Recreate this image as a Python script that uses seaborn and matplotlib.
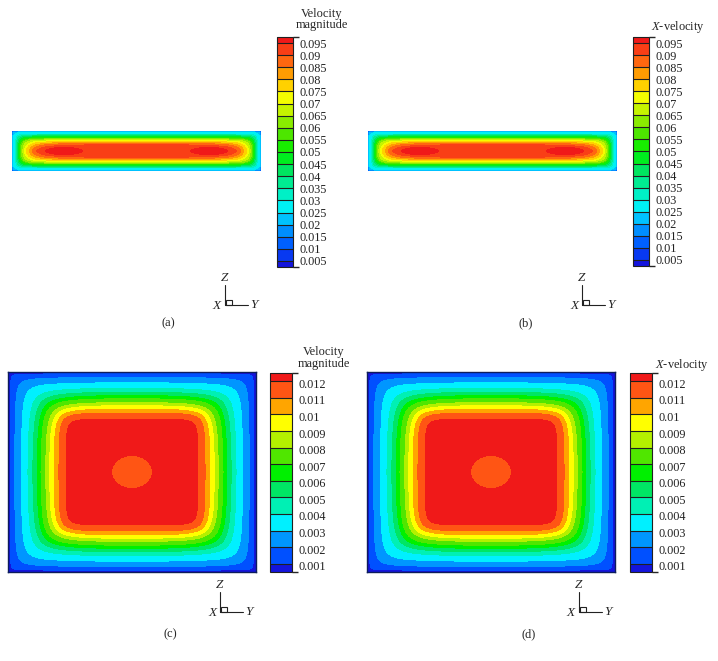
import numpy as np
import matplotlib
matplotlib.use("Agg")
import matplotlib.pyplot as plt
import seaborn as sns
from matplotlib.colors import ListedColormap, BoundaryNorm
from matplotlib.cm import ScalarMappable
from matplotlib.lines import Line2D
from matplotlib.patches import Rectangle
from matplotlib.transforms import ScaledTranslation

# ---------------- data ----------------
# legend levels
strip_levels = [0.005, 0.01, 0.015, 0.02, 0.025, 0.03, 0.035, 0.04, 0.045, 0.05,
                0.055, 0.06, 0.065, 0.07, 0.075, 0.08, 0.085, 0.09, 0.095]
strip_labels = ["0.005", "0.01", "0.015", "0.02", "0.025", "0.03", "0.035", "0.04",
                "0.045", "0.05", "0.055", "0.06", "0.065", "0.07", "0.075", "0.08",
                "0.085", "0.09", "0.095"]
square_levels = [0.001, 0.002, 0.003, 0.004, 0.005, 0.006, 0.007, 0.008, 0.009,
                 0.010, 0.011, 0.012]
square_labels = ["0.001", "0.002", "0.003", "0.004", "0.005", "0.006", "0.007",
                 "0.008", "0.009", "0.01", "0.011", "0.012"]

# band colours of the Tecplot legend (bottom -> top)
band_colors = ["#1414dc", "#0050ff", "#0096ff", "#00f0ff", "#00f0b4", "#00e664",
               "#00f000", "#50e600", "#b4f000", "#ffff00", "#ffa500", "#ff5514",
               "#f01919"]

# (a)/(b) thin duct: where levels 0.005 ... 0.09 are crossed on the mid-lines,
# in pixels from the end wall (h) and from the top wall (v)
strip_cross_h = [0.1, 0.2, 0.35, 0.6, 1.0, 3.3, 4.3, 5.3, 6.3, 7.2, 8.1, 9.0,
                 10.7, 12.5, 14.3, 17.0, 20.0, 24.3]
strip_cross_v = [0.1, 0.2, 0.35, 0.6, 1.0, 3.0, 3.8, 4.6, 5.5, 6.3, 7.0, 7.7,
                 8.6, 9.5, 10.3, 11.3, 12.3, 13.7]
strip_ring_round = [0.5, 0.5, 0.5, 0.5, 0.5, 1.3, 1.4, 1.5, 1.6, 1.7, 1.8, 1.9,
                    2.0, 2.0, 2.0, 2.0, 2.0, 2.0]
# two red (> 0.095) spots: centre distance from each end, half length, half height (px)
strip_spot = [52.0, 19.0, 4.0]

# (c)/(d) duct cross-section: where each level is crossed on the mid-line
# (distance from the wall, fraction of the half size)
square_cross_pos = [0.019, 0.054, 0.107, 0.161, 0.20, 0.234, 0.266, 0.304, 0.336,
                    0.371, 0.411, 0.47]
# corner roundness of each contour ring (exponent of the soft wall distance)
square_ring_round = [1.0, 0.9, 1.26, 1.53, 1.8, 2.08, 2.43, 2.9, 3.45, 4.2, 5.7, 8.5]
# central low-velocity spot (0.011-0.012 band): half size as fraction
square_spot_half = 0.16
square_spot_round = 8.0

# ---------------- styling ----------------
sns.set_theme(style="white")
plt.rcParams['font.family'] = ['Liberation Serif', 'DejaVu Serif']
plt.rcParams['mathtext.fontset'] = 'custom'
plt.rcParams['mathtext.rm'] = 'Liberation Serif'
plt.rcParams['mathtext.it'] = 'Liberation Serif:italic'

W, H = 718, 661
fig = plt.figure(figsize=(W / 100, H / 100), dpi=100)
fig.patch.set_facecolor('white')


def rect(x0, y0, x1, y1):
    return [x0 / W, 1 - y1 / H, (x1 - x0) / W, (y1 - y0) / H]


def ftext(x, y, s, **kw):
    kw.setdefault('ha', 'center')
    kw.setdefault('va', 'center')
    fig.text(x / W, 1 - y / H, s, **kw)


def palette(levels):
    n = len(levels) + 1
    if n == len(band_colors):
        return list(band_colors)
    return sns.blend_palette(band_colors, n_colors=n)


def hide_frame(ax, frame):
    ax.set_xticks([])
    ax.set_yticks([])
    for sp in ax.spines.values():
        if frame:
            sp.set_visible(True)
            sp.set_color('#0d1d5c')
            sp.set_linewidth(1.0)
        else:
            sp.set_visible(False)


def draw_strip(box):
    x0, y0, x1, y1 = box
    wb, hb = x1 - x0, y1 - y0
    ax = fig.add_axes(rect(*box))
    cols = palette(strip_levels)
    xs = np.linspace(0, wb, 900)
    zs = np.linspace(0, hb, 241)
    X, Z = np.meshgrid(xs, zs)
    dy = np.clip(np.minimum(X, wb - X), 1e-6, None)
    dz = np.clip(np.minimum(Z, hb - Z), 1e-6, None)
    ax.add_patch(Rectangle((0, 0), wb, hb, color=cols[0], zorder=0))
    for k, (h, v, p) in enumerate(zip(strip_cross_h, strip_cross_v, strip_ring_round)):
        ah, av = h, v
        for _ in range(80):
            ah = h * max(1 - (hb / 2 / av) ** -p, 1e-9) ** (1 / p)
            av = v * max(1 - (wb / 2 / ah) ** -p, 1e-9) ** (1 / p)
        g = (dy / ah) ** -p + (dz / av) ** -p
        ax.contourf(X, Z, g, levels=[0, 1.0], colors=[cols[k + 1]], zorder=1 + k)
    c, a, b = strip_spot
    for xc in (c, wb - c):
        e = np.abs((X - xc) / a) ** 1.6 + np.abs((Z - hb / 2) / b) ** 1.6
        ax.contourf(X, Z, e, levels=[0, 1.0], colors=[cols[-1]], zorder=40)
    ax.set_xlim(0, wb)
    ax.set_ylim(0, hb)
    hide_frame(ax, False)
    return ax


def soft_dist(dy, dz, p):
    return (dy ** -p + dz ** -p) ** (-1.0 / p)


def draw_square(box):
    ax = fig.add_axes(rect(*box))
    cols = palette(square_levels)
    s = np.linspace(-1, 1, 601)
    X, Y = np.meshgrid(s, s)
    dy = np.clip(1 - np.abs(X), 1e-9, None)
    dz = np.clip(1 - np.abs(Y), 1e-9, None)
    ax.add_patch(Rectangle((-1, -1), 2, 2, color=cols[0], zorder=0))
    for k, (d, p) in enumerate(zip(square_cross_pos, square_ring_round)):
        r = soft_dist(dy, dz, p)
        thr = soft_dist(np.array(d), np.array(1.0), p)
        ax.contourf(X, Y, r, levels=[thr, 10.0], colors=[cols[k + 1]], zorder=1 + k)
    p = square_spot_round
    r = soft_dist(dy, dz, p)
    thr = soft_dist(np.array(1 - square_spot_half), np.array(1.0), p)
    ax.contourf(X, Y, r, levels=[thr, 10.0], colors=[cols[-2]], zorder=20)
    ax.set_xlim(-1, 1)
    ax.set_ylim(-1, 1)
    hide_frame(ax, True)
    return ax


def draw_cbar(box, levels, labels, dy_px):
    cax = fig.add_axes(rect(*box))
    cols = palette(levels)
    step = levels[1] - levels[0]
    bounds = [levels[0] - step / 2] + list(levels) + [levels[-1] + step / 2]
    cmap = ListedColormap(cols)
    norm = BoundaryNorm(bounds, ncolors=len(cols))
    cb = fig.colorbar(ScalarMappable(norm=norm, cmap=cmap), cax=cax,
                      boundaries=bounds, spacing='proportional', drawedges=True,
                      ticks=levels)
    cb.set_ticklabels(labels)
    cax.tick_params(length=0, pad=5, labelsize=8.8, colors='#222222')
    cb.dividers.set_color('#202020')
    cb.dividers.set_linewidth(0.8)
    cb.outline.set_edgecolor('#202020')
    cb.outline.set_linewidth(0.8)
    off = ScaledTranslation(0, -dy_px / 100, fig.dpi_scale_trans)
    for lab in cax.get_yticklabels():
        lab.set_transform(lab.get_transform() + off)
    return cb


def triad(ox, oy):
    kw = dict(transform=fig.transFigure, color='#222222', lw=0.8)
    fig.add_artist(Line2D([ox / W, ox / W], [1 - oy / H, 1 - (oy - 20) / H], **kw))
    fig.add_artist(Line2D([ox / W, (ox + 23) / W], [1 - oy / H, 1 - oy / H], **kw))
    fig.add_artist(Rectangle(((ox + 1) / W, 1 - oy / H), 6 / W, 5 / H, fill=False,
                             transform=fig.transFigure, edgecolor='#222222', lw=0.8))
    ftext(ox, oy - 27, "Z", fontsize=9.5, fontstyle='italic')
    ftext(ox - 8, oy + 1, "X", fontsize=9.5, fontstyle='italic')
    ftext(ox + 29, oy, "Y", fontsize=9.5, fontstyle='italic')


# ---------------- panels ----------------
# (a)
draw_strip((12, 131, 261, 171))
draw_cbar((277, 37, 293, 267), strip_levels, strip_labels, 0)
ftext(322, 14, "Velocity", fontsize=8.9)
ftext(322, 25, "magnitude", fontsize=8.9)
triad(225, 305)
ftext(168, 323, "(a)", fontsize=9)

# (b)
draw_strip((368, 131, 617, 171))
draw_cbar((633, 37, 649, 266), strip_levels, strip_labels, 0)
ftext(678, 27, "$X$-velocity", fontsize=8.9)
triad(582, 305)
ftext(526, 323, "(b)", fontsize=9)

# (c)
draw_square((8, 372, 256, 572))
draw_cbar((270, 373, 292, 572), square_levels, square_labels, 2)
ftext(324, 352, "Velocity", fontsize=8.9)
ftext(324, 364, "magnitude", fontsize=8.9)
triad(220, 612)
ftext(170, 634, "(c)", fontsize=9)

# (d)
draw_square((367, 372, 615, 572))
draw_cbar((630, 373, 652, 572), square_levels, square_labels, 2)
ftext(682, 365, "$X$-velocity", fontsize=8.9)
triad(579, 612)
ftext(529, 634, "(d)", fontsize=9)

fig.savefig("out.png", dpi=100, facecolor='white')
